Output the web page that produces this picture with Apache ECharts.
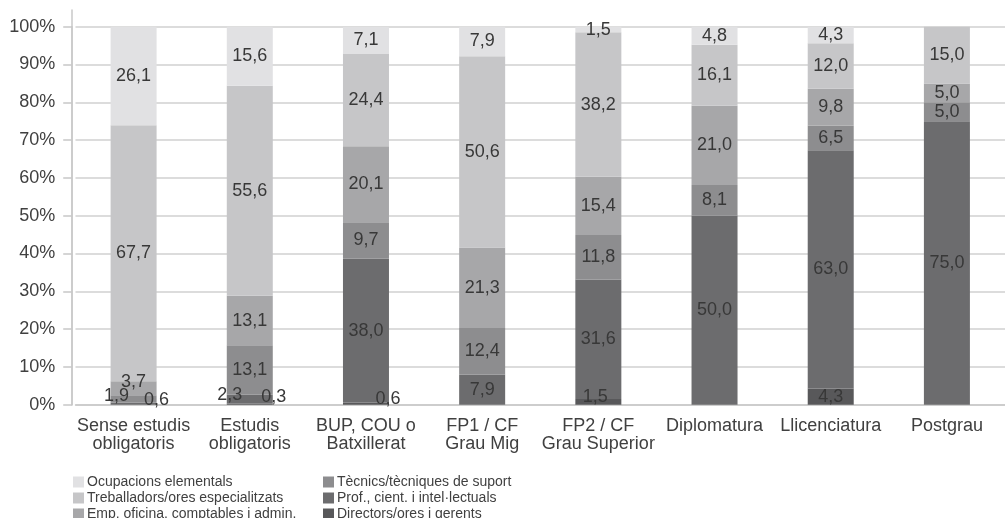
<!DOCTYPE html>
<html>
<head>
<meta charset="utf-8">
<script src="https://cdn.jsdelivr.net/npm/echarts@6/dist/echarts.min.js"></script>
<style>
html,body{margin:0;padding:0;background:#fff;}
#chart{width:1005px;height:518px;}
</style>
</head>
<body>
<div id="chart"></div>
<script>
// ---- data ----
const categories = ['Sense estudis\nobligatoris', 'Estudis\nobligatoris', 'BUP, COU o\nBatxillerat', 'FP1 / CF\nGrau Mig', 'FP2 / CF\nGrau Superior', 'Diplomatura', 'Llicenciatura', 'Postgrau'];
const yTicks = [0, 10, 20, 30, 40, 50, 60, 70, 80, 90, 100];
const directors = [0, 0.3, 0.6, 0, 1.5, 0, 4.3, 0];
const prof      = [0.6, 2.3, 38.0, 7.9, 31.6, 50.0, 63.0, 75.0];
const tecnics   = [1.9, 13.1, 9.7, 12.4, 11.8, 8.1, 6.5, 5.0];
const emp       = [3.7, 13.1, 20.1, 21.3, 15.4, 21.0, 9.8, 5.0];
const treb      = [67.7, 55.6, 24.4, 50.6, 38.2, 16.1, 12.0, 15.0];
const ocup      = [26.1, 15.6, 7.1, 7.9, 1.5, 4.8, 4.3, 0];
const seriesNames = ['Directors/ores i gerents', 'Prof., cient. i intel·lectuals', 'Tècnics/tècniques de suport', 'Emp. oficina, comptables i admin.', 'Treballadors/ores especialitzats', 'Ocupacions elementals'];
const seriesValues = [directors, prof, tecnics, emp, treb, ocup];

// ---- styling ----
const colors = ['#58585a', '#6c6c6e', '#8d8d8f', '#a7a7a9', '#c6c6c8', '#e1e1e3'];
// label nudges for small segments (series index -> category index -> [dx, dy])
const nudges = {
  0: {1: [24, -7], 2: [22, -5], 4: [-3, -5]},
  1: {0: [23, -4], 1: [-20, -4]},
  2: {0: [-17, -3]},
  3: {0: [0, -6]}
};
const FONT = '"Liberation Sans", Arial, sans-serif';
const TXT = '#404040';

const series = seriesValues.map((vals, si) => ({
  name: seriesNames[si],
  type: 'bar',
  stack: 'total',
  barWidth: 46,
  itemStyle: {color: colors[si]},
  data: vals.map((v, ci) => {
    const item = {value: v};
    if (nudges[si] && nudges[si][ci]) {
      item.label = {offset: nudges[si][ci]};
    }
    return item;
  }),
  label: {
    show: true,
    position: 'inside',
    color: '#383838',
    fontFamily: FONT,
    fontSize: 18,
    formatter: p => p.value ? p.value.toFixed(1).replace('.', ',') : ''
  },
  emphasis: {disabled: true}
}));

// extra axis line extending above 100%
series.push({
  type: 'bar', xAxisIndex: 1, yAxisIndex: 1, data: [], silent: true
});

const legendBase = {
  orient: 'vertical',
  icon: 'rect',
  itemWidth: 11,
  itemHeight: 11,
  itemGap: 2,
  top: 475,
  height: 120,
  width: 300,
  padding: 0,
  selectedMode: false,
  textStyle: {fontFamily: FONT, fontSize: 14, color: TXT, lineHeight: 14, padding: [0, 0, 0, -2]}
};

const option = {
  animation: false,
  backgroundColor: '#fff',
  grid: [
    {left: 75.5, right: -7.2, top: 26.7, bottom: 113.3},
    {left: 75.5, right: -7.2, top: 10, bottom: 113.3}
  ],
  legend: [
    Object.assign({}, legendBase, {left: 73, data: [seriesNames[5], seriesNames[4], seriesNames[3]]}),
    Object.assign({}, legendBase, {left: 323, data: [seriesNames[2], seriesNames[1], seriesNames[0]]})
  ],
  xAxis: [
    {
      type: 'category',
      data: categories,
      axisLine: {lineStyle: {color: '#c8c8c8', width: 1.5}},
      axisTick: {alignWithLabel: true, length: 8, lineStyle: {color: '#c8c8c8', width: 1.5}},
      axisLabel: {fontFamily: FONT, fontSize: 18, color: TXT, lineHeight: 18, margin: 12, interval: 0}
    },
    {type: 'category', gridIndex: 1, data: categories, show: false}
  ],
  yAxis: [
    {
      type: 'value',
      min: yTicks[0],
      max: yTicks[yTicks.length - 1],
      interval: yTicks[1] - yTicks[0],
      offset: 3.3,
      axisLine: {show: true, lineStyle: {color: '#c8c8c8', width: 1.5}},
      axisTick: {show: true, length: 9, lineStyle: {color: '#c8c8c8', width: 1.5}},
      splitLine: {lineStyle: {color: '#d0d0d0', width: 1.5}},
      axisLabel: {fontFamily: FONT, fontSize: 18, color: TXT, margin: 17, formatter: v => v + '%'}
    },
    {
      type: 'value', gridIndex: 1, min: 0, max: 1, offset: 3.3,
      axisLine: {show: true, lineStyle: {color: '#c8c8c8', width: 1.5}},
      axisTick: {show: false}, axisLabel: {show: false}, splitLine: {show: false}
    }
  ],
  series: series
};

const chart = echarts.init(document.getElementById('chart'), null, {renderer: 'canvas'});
chart.setOption(option);
</script>
</body>
</html>
